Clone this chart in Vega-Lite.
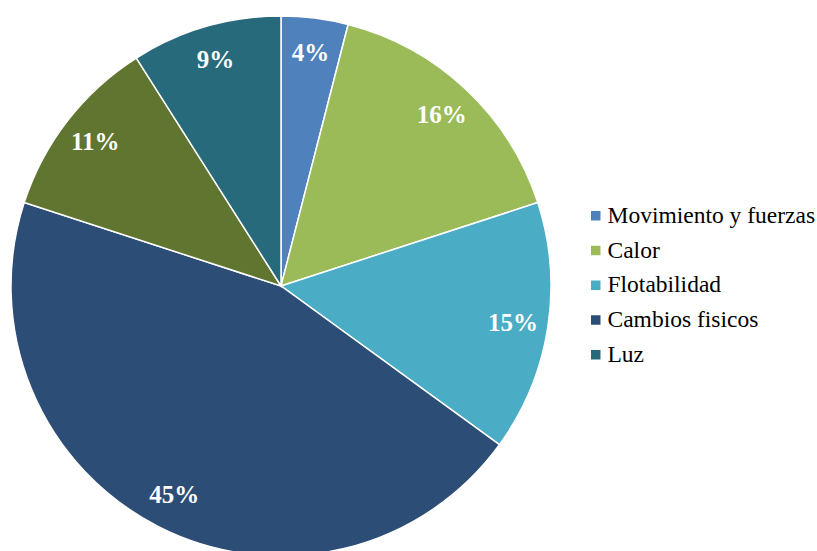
{
  "$schema": "https://vega.github.io/schema/vega-lite/v6.json",
  "width": 562,
  "height": 572,
  "padding": 0,
  "background": "white",
  "data": {
    "values": [
      {"tema": "Movimiento y fuerzas", "pct": 0.04, "orden": 1},
      {"tema": "Calor", "pct": 0.16, "orden": 2},
      {"tema": "Flotabilidad", "pct": 0.15, "orden": 3},
      {"tema": "Cambios fisicos", "pct": 0.45, "orden": 4},
      {"tema": "Otros", "pct": 0.11, "orden": 5},
      {"tema": "Luz", "pct": 0.09, "orden": 6}
    ]
  },
  "encoding": {
    "theta": {"field": "pct", "type": "quantitative", "stack": true},
    "order": {"field": "orden", "type": "quantitative"}
  },
  "layer": [
    {
      "mark": {"type": "arc", "radius": 270, "stroke": "white", "strokeWidth": 1.5},
      "encoding": {
        "color": {
          "field": "tema",
          "type": "nominal",
          "scale": {
            "domain": ["Movimiento y fuerzas", "Calor", "Flotabilidad", "Cambios fisicos", "Otros", "Luz"],
            "range": ["#4F81BD", "#9BBB59", "#4BACC6", "#2C4D75", "#5F7530", "#276A7C"]
          },
          "legend": {
            "values": ["Movimiento y fuerzas", "Calor", "Flotabilidad", "Cambios fisicos", "Luz"],
            "title": null,
            "orient": "none",
            "legendX": 584,
            "legendY": 204,
            "padding": 0,
            "symbolType": "square",
            "symbolSize": 90,
            "symbolStrokeWidth": 0,
            "labelFont": "Liberation Serif",
            "labelFontSize": 23.5,
            "labelColor": "black",
            "labelOffset": 0,
            "rowPadding": 9.75,
            "labelLimit": 300
          }
        }
      }
    },
    {
      "mark": {"type": "text", "radius": 235, "font": "Liberation Serif", "fontSize": 25, "fontWeight": "bold", "fill": "white", "align": "center", "baseline": "middle"},
      "encoding": {
        "text": {"field": "pct", "type": "quantitative", "format": ".0%"}
      }
    }
  ]
}
